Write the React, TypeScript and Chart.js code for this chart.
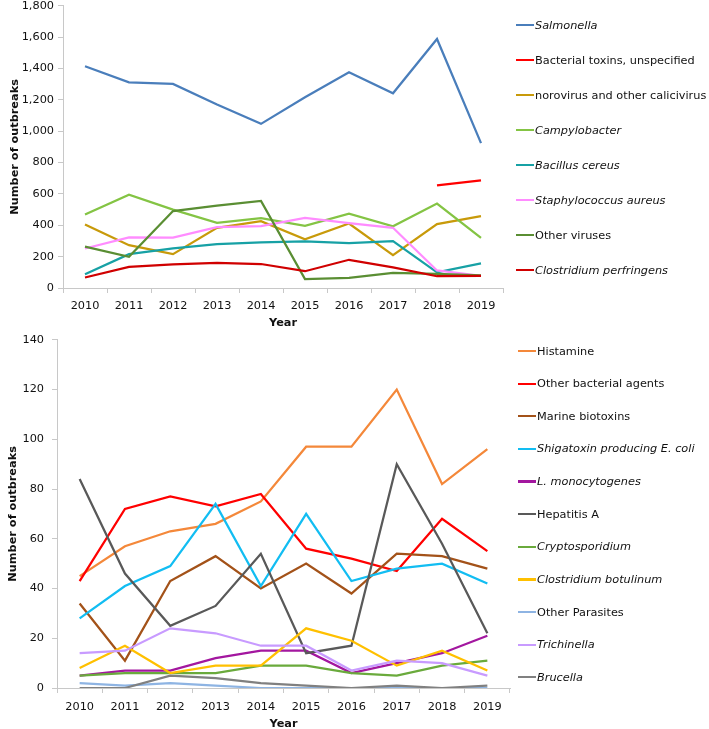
import React, { useEffect, useRef } from "react";
import { Chart, registerables } from "chart.js";
Chart.register(...registerables);

// ---------- data ----------
const years = ["2010", "2011", "2012", "2013", "2014", "2015", "2016", "2017", "2018", "2019"];

// top panel
const salmonella = [1414, 1312, 1302, 1170, 1047, 1217, 1376, 1242, 1588, 924];
const bacterialToxins = [null, null, null, null, null, null, null, null, 655, 687];
const norovirus = [405, 273, 216, 384, 426, 310, 411, 210, 407, 458];
const campylobacter = [469, 595, 500, 415, 445, 396, 474, 394, 539, 320];
const bacillusCereus = [88, 216, 252, 280, 291, 297, 286, 299, 100, 157];
const staphylococcus = [252, 323, 321, 388, 395, 447, 414, 384, 112, 77];
const otherViruses = [264, 199, 491, 526, 556, 57, 64, 97, 90, 80];
const clostridiumPerfringens = [67, 135, 150, 161, 153, 107, 180, 132, 75, 77];

// bottom panel
const histamine = [45, 57, 63, 66, 75, 97, 97, 120, 82, 96];
const otherBacterial = [43, 72, 77, 73, 78, 56, 52, 47, 68, 55];
const marineBiotoxins = [34, 11, 43, 53, 40, 50, 38, 54, 53, 48];
const stec = [28, 41, 49, 74, 41, 70, 43, 48, 50, 42];
const listeria = [5, 7, 7, 12, 15, 15, 6, 10, 14, 21];
const hepatitisA = [84, 46, 25, 33, 54, 14, 17, 90, 58, 22];
const cryptosporidium = [5, 6, 6, 6, 9, 9, 6, 5, 9, 11];
const botulinum = [8, 17, 6, 9, 9, 24, 19, 9, 15, 7];
const otherParasites = [2, 1, 2, 1, 0, 0, 0, 0, 0, 0];
const trichinella = [14, 15, 24, 22, 17, 17, 7, 11, 10, 5];
const brucella = [0, 0, 5, 4, 2, 1, 0, 1, 0, 1];

const topTicks = { min: 0, max: 1800, step: 200 };
const bottomTicks = { min: 0, max: 140, step: 20 };

type Series = { label: string; italic: boolean; color: string; data: (number | null)[] };

const topSeries: Series[] = [
  { label: "Salmonella", italic: true, color: "#4a7ebb", data: salmonella },
  { label: "Bacterial toxins, unspecified", italic: false, color: "#ff0000", data: bacterialToxins },
  { label: "norovirus and other calicivirus", italic: false, color: "#c89a0a", data: norovirus },
  { label: "Campylobacter", italic: true, color: "#84c444", data: campylobacter },
  { label: "Bacillus cereus", italic: true, color: "#17a1a5", data: bacillusCereus },
  { label: "Staphylococcus aureus", italic: true, color: "#ff8cff", data: staphylococcus },
  { label: "Other viruses", italic: false, color: "#5a8e33", data: otherViruses },
  { label: "Clostridium perfringens", italic: true, color: "#d00000", data: clostridiumPerfringens },
];

const bottomSeries: Series[] = [
  { label: "Histamine", italic: false, color: "#f4883a", data: histamine },
  { label: "Other bacterial agents", italic: false, color: "#ff0000", data: otherBacterial },
  { label: "Marine biotoxins", italic: false, color: "#a35219", data: marineBiotoxins },
  { label: "Shigatoxin producing E. coli", italic: true, color: "#12bdf2", data: stec },
  { label: "L. monocytogenes", italic: true, color: "#a3179f", data: listeria },
  { label: "Hepatitis A", italic: false, color: "#595959", data: hepatitisA },
  { label: "Cryptosporidium", italic: true, color: "#6aaa3c", data: cryptosporidium },
  { label: "Clostridium botulinum", italic: true, color: "#ffc000", data: botulinum },
  { label: "Other Parasites", italic: false, color: "#8eb4e3", data: otherParasites },
  { label: "Trichinella", italic: true, color: "#c89bff", data: trichinella },
  { label: "Brucella", italic: true, color: "#808080", data: brucella },
];

const FONT = "'DejaVu Sans', Verdana, sans-serif";
const FS = 11.3;
const TEXT = "#111111";
const AXIS = "#c8c8c8";

type PanelProps = {
  series: Series[];
  ticks: { min: number; max: number; step: number };
  canvasTop: number;
  canvasHeight: number;
  yAxisWidth: number;
  padRight: number;
  padTop: number;
  xAxisHeight: number;
  yTickPad: number;
  yTitlePad: number;
  xTickPad: number;
  legendY0: number;
  legendStep: number;
  legendX: number;
};

function Panel(p: PanelProps) {
  const ref = useRef<HTMLCanvasElement | null>(null);
  useEffect(() => {
    if (!ref.current) return;
    const chart = new Chart(ref.current, {
      type: "line",
      data: {
        labels: years,
        datasets: p.series.map((s, i) => ({
          label: s.label,
          data: s.data,
          borderColor: s.color,
          backgroundColor: s.color,
          borderWidth: 2.25,
          pointRadius: 0,
          tension: 0,
          fill: false,
          spanGaps: false,
          order: -i,
        })),
      },
      options: {
        responsive: false,
        animation: false,
        events: [],
        layout: { padding: { left: 0, right: p.padRight, top: p.padTop, bottom: 0 } },
        plugins: { legend: { display: false }, tooltip: { enabled: false } },
        scales: {
          x: {
            type: "category",
            offset: true,
            grid: { offset: true, drawOnChartArea: false, drawTicks: true, tickLength: 5, color: AXIS },
            border: { display: true, color: AXIS, width: 1 },
            ticks: { font: { family: FONT, size: FS }, color: TEXT, padding: p.xTickPad, maxRotation: 0, autoSkip: false },
            title: { display: true, text: "Year", color: TEXT, font: { family: FONT, size: FS, weight: "bold" }, padding: 0 },
            afterFit: (s: any) => { s.height = p.xAxisHeight; },
          },
          y: {
            min: p.ticks.min,
            max: p.ticks.max,
            ticks: {
              stepSize: p.ticks.step,
              font: { family: FONT, size: FS },
              color: TEXT,
              padding: p.yTickPad,
              callback: (v: any) => Number(v).toLocaleString("en-US"),
            },
            grid: { drawOnChartArea: false, drawTicks: true, tickLength: 5, color: AXIS },
            border: { display: true, color: AXIS, width: 1 },
            title: {
              display: true,
              text: "Number of outbreaks",
              color: TEXT,
              font: { family: FONT, size: FS, weight: "bold" },
              padding: { top: p.yTitlePad, bottom: 0 },
            },
            afterFit: (s: any) => { s.width = p.yAxisWidth; },
          },
        },
      } as any,
    });
    return () => chart.destroy();
  }, []);

  return (
    <>
      <canvas
        ref={ref}
        width={709}
        height={p.canvasHeight}
        style={{ position: "absolute", left: 0, top: p.canvasTop, width: 709, height: p.canvasHeight }}
      />
      {p.series.map((s, i) => (
        <div
          key={s.label}
          style={{
            position: "absolute",
            left: p.legendX,
            top: p.legendY0 + i * p.legendStep - 8,
            height: 16,
            display: "flex",
            alignItems: "center",
            whiteSpace: "nowrap",
            fontFamily: FONT,
            fontSize: FS,
            color: TEXT,
          }}
        >
          <span style={{ display: "inline-block", width: 18, height: 2.25, background: s.color, marginRight: 1 }} />
          <span style={{ fontStyle: s.italic ? "italic" : "normal" }}>{s.label}</span>
        </div>
      ))}
    </>
  );
}

export default function App() {
  return (
    <div style={{ position: "fixed", left: 0, top: 0, width: 709, height: 729, overflow: "hidden", background: "#ffffff" }}>
      <Panel
        series={topSeries}
        ticks={topTicks}
        canvasTop={-5}
        canvasHeight={335}
        yAxisWidth={63}
        padRight={206}
        padTop={10}
        xAxisHeight={42}
        yTickPad={4}
        yTitlePad={8}
        xTickPad={6}
        legendY0={25}
        legendStep={35}
        legendX={516}
      />
      <Panel
        series={bottomSeries}
        ticks={bottomTicks}
        canvasTop={325}
        canvasHeight={406}
        yAxisWidth={57}
        padRight={199}
        padTop={14}
        xAxisHeight={43}
        yTickPad={8}
        yTitlePad={6}
        xTickPad={7}
        legendY0={351}
        legendStep={32.63}
        legendX={518}
      />
    </div>
  );
}
